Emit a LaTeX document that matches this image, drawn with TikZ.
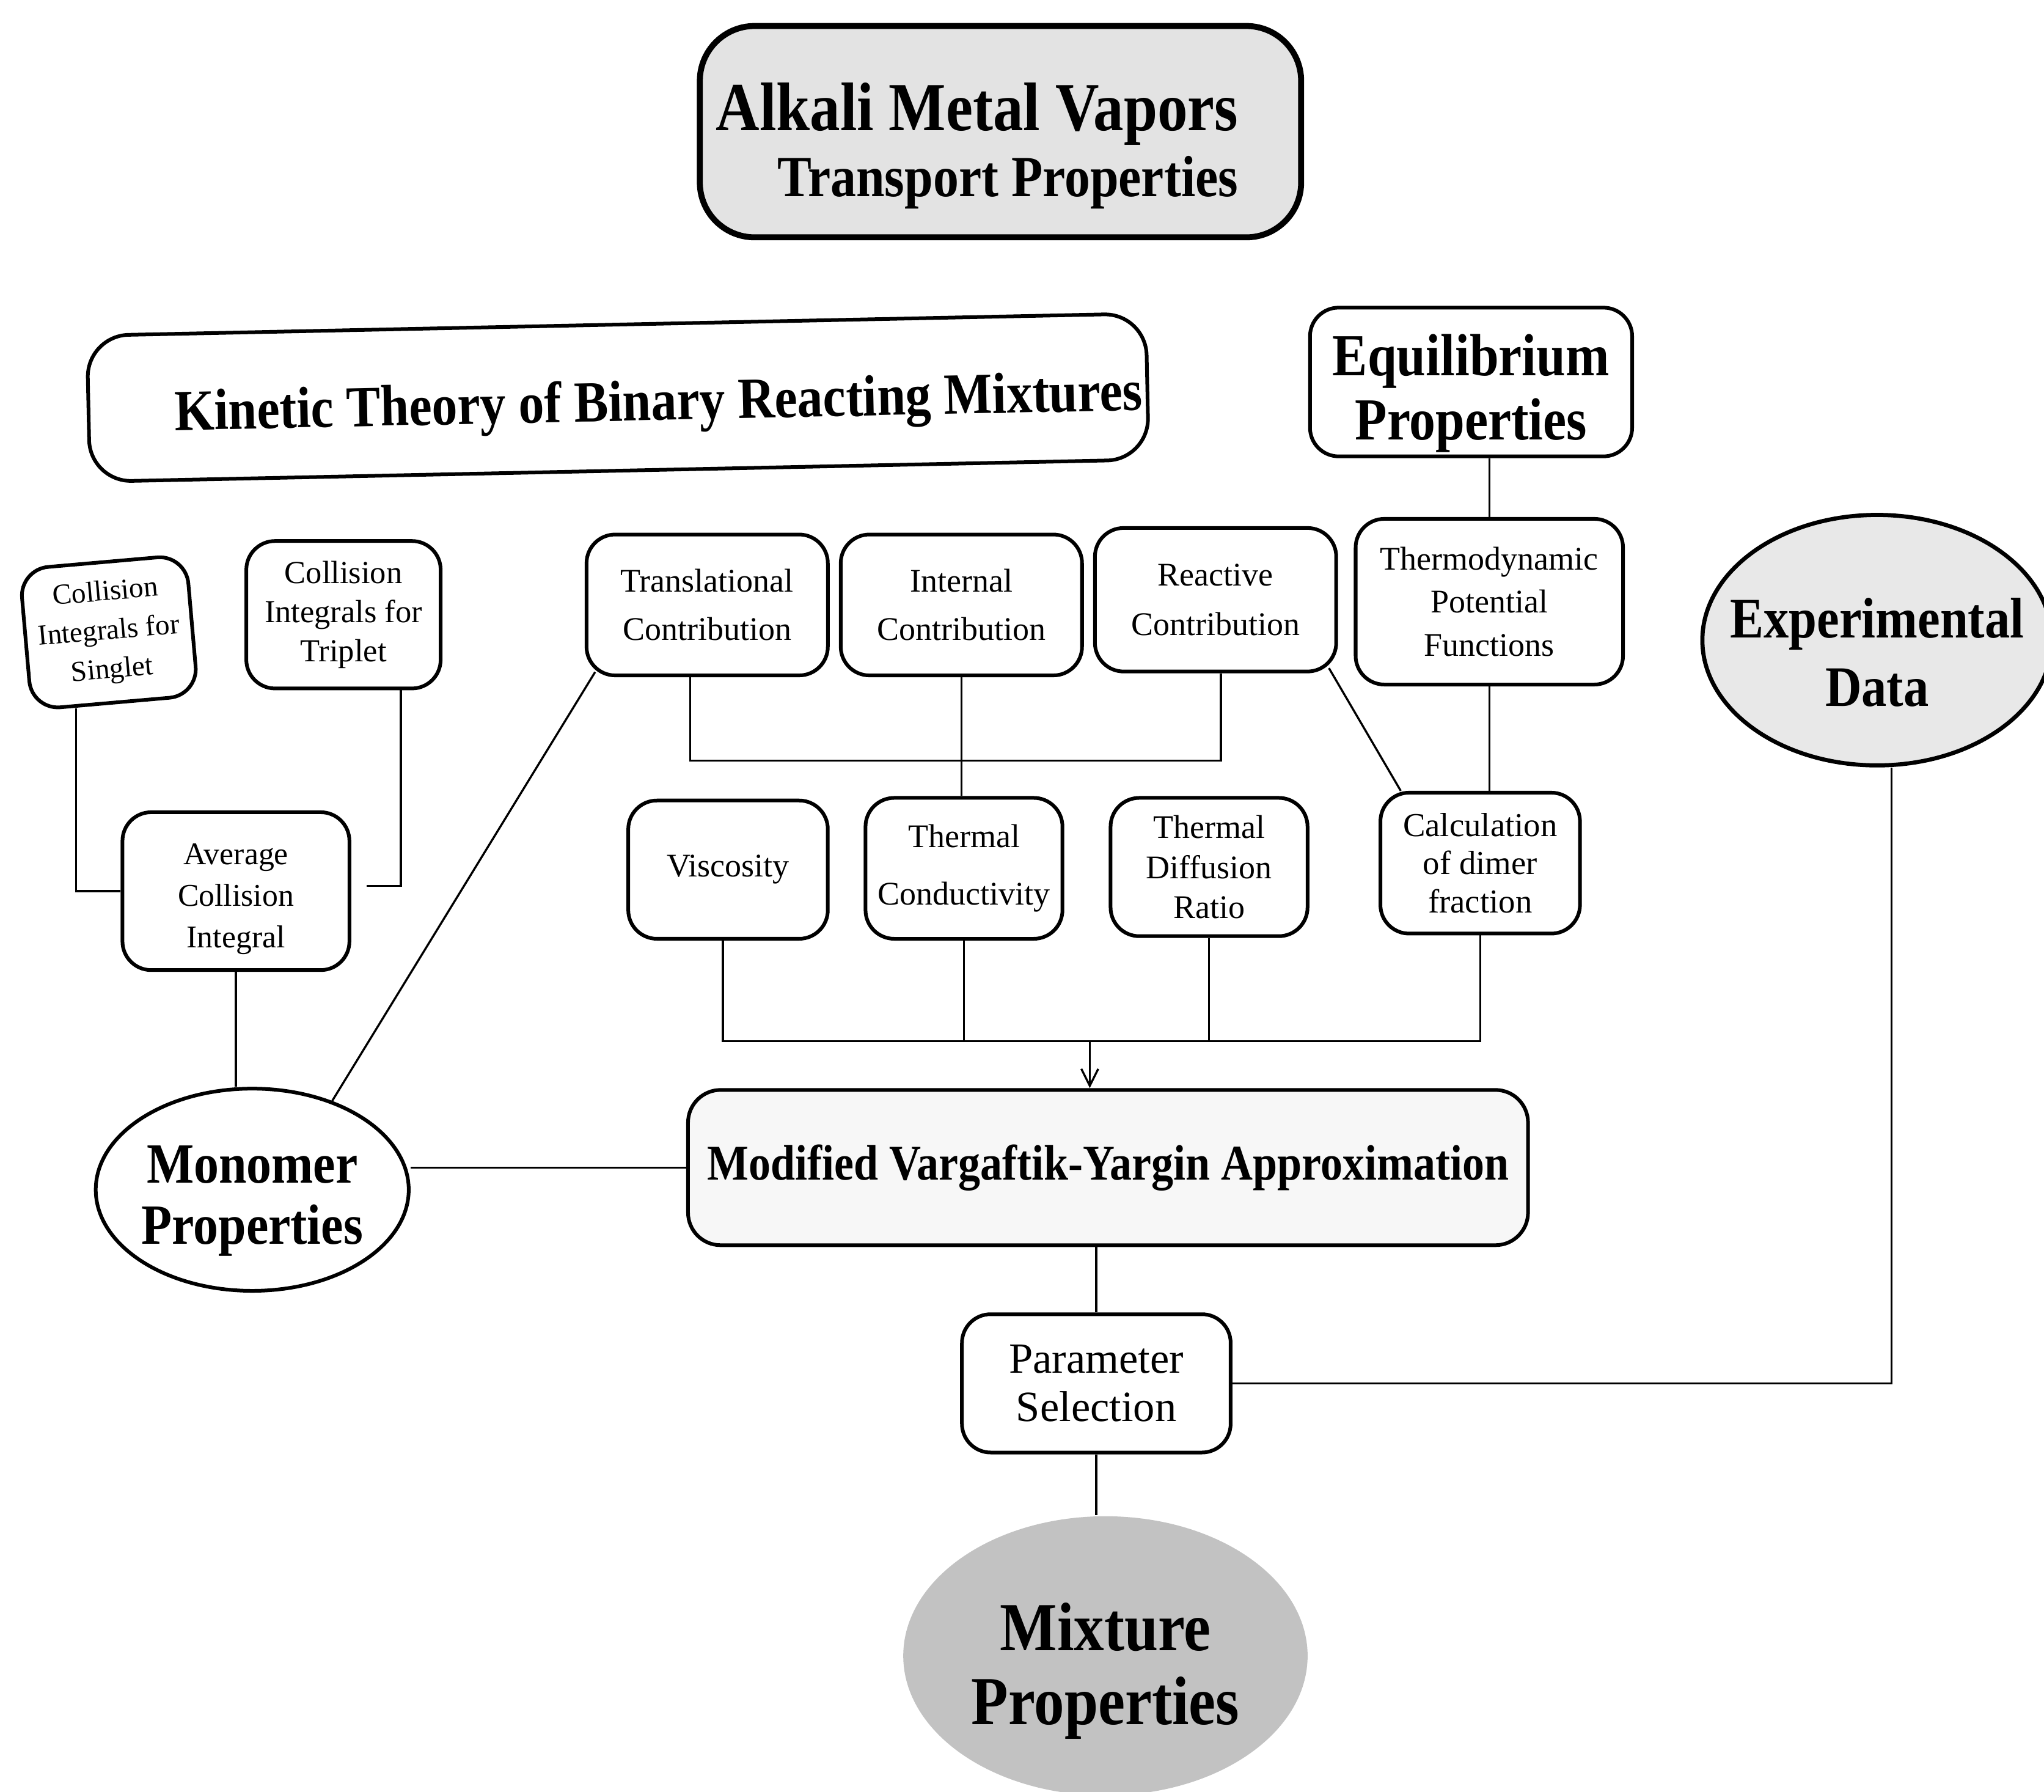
\documentclass[tikz,border=0pt]{standalone}
\usepackage{fontspec}
\setmainfont{Liberation Serif}
\newfontfamily\hdfont[FakeStretch=0.88]{Liberation Serif}
\usetikzlibrary{calc,arrows.meta,shapes.geometric}
\begin{document}
\begin{tikzpicture}[x=0.01cm,y=-0.01cm,
  box/.style={draw, line width=0.8pt, rounded corners=0.22cm, rectangle, align=center, inner sep=0pt},
  sm/.style={font=\fontsize{7.2}{#1}\selectfont},
  oval/.style={ellipse, align=center, inner sep=0pt},
  conn/.style={line width=0.45pt},
]
\useasboundingbox (0,0) rectangle (1568,1374);

% ---- nodes ----
\node[box, line width=1.3pt, rounded corners=0.42cm, fill=gray!22, minimum width=4.61cm, minimum height=1.62cm,
  font=\hdfont\bfseries\fontsize{15}{14.4}\selectfont, align=right] (title) at (767.5,101)
  {\rule{0pt}{16.6pt}Alkali Metal Vapors\hspace*{0.36cm}\\{\fontsize{12.7}{14.4}\selectfont Transport Properties\hspace*{0.36cm}}};

\node[box, rounded corners=0.32cm, rotate=1.2, minimum width=8.12cm, minimum height=1.12cm,
  font=\hdfont\bfseries\fontsize{12.7}{14}\selectfont] (kin) at (474,305)
  {\hspace*{0.62cm}\rule{0pt}{13pt}Kinetic Theory of Binary Reacting Mixtures};

\node[box, minimum width=2.47cm, minimum height=1.14cm,
  font=\hdfont\bfseries\fontsize{13}{14}\selectfont] (eq) at (1128.5,293) {\rule{0pt}{14pt}Equilibrium\\Properties};

\node[box, rotate=5, minimum width=1.28cm, minimum height=1.08cm, font=\fontsize{6.3}{8.5}\selectfont] (cs) at (83.5,485)
  {Collision\\Integrals for\\Singlet};
\node[box, minimum width=1.49cm, minimum height=1.13cm, font=\fontsize{7.0}{8.5}\selectfont] (ct) at (263.5,471.5)
  {Collision\\Integrals for\\Triplet};
\node[box, minimum width=1.74cm, minimum height=1.21cm, font=\fontsize{6.9}{9}\selectfont] (av) at (181,683.5)
  {\rule{0pt}{8pt}Average\\Collision\\Integral};

\node[box, sm=10.5, minimum width=1.85cm, minimum height=1.08cm] (tr) at (542.5,464) {Translational\\Contribution};
\node[box, sm=10.5, minimum width=1.85cm, minimum height=1.08cm] (in) at (737.5,464) {Internal\\Contribution};
\node[box, sm=10.8, minimum width=1.85cm, minimum height=1.10cm] (re) at (932.5,460) {Reactive\\Contribution};
\node[box, sm=9.4, minimum width=2.05cm, minimum height=1.27cm] (td) at (1142.5,461.5) {Thermodynamic\\Potential\\Functions};

\node[oval, draw, line width=0.9pt, fill=gray!18, inner xsep=-0.3cm, minimum width=2.68cm, minimum height=1.92cm,
  font=\hdfont\bfseries\fontsize{12.5}{15}\selectfont] (exp) at (1440,491) {\rule{0pt}{14pt}Experimental\\Data};

\node[box, sm=10, minimum width=1.53cm, minimum height=1.06cm] (vis) at (558.5,667) {Viscosity};
\node[box, sm=12.5, minimum width=1.51cm, minimum height=1.08cm] (tc) at (739.5,666) {Thermal\\Conductivity};
\node[box, sm=8.7, minimum width=1.51cm, minimum height=1.06cm] (tdr) at (927.5,665) {Thermal\\Diffusion\\Ratio};
\node[box, font=\fontsize{7.3}{8.3}\selectfont, minimum width=1.53cm, minimum height=1.08cm] (calc) at (1135.5,662) {Calculation\\of dimer\\fraction};

\node[oval, draw, line width=0.8pt, fill=white, minimum width=2.37cm, minimum height=1.55cm,
  font=\hdfont\bfseries\fontsize{12.4}{13.4}\selectfont] (mono) at (193.5,912.5) {\rule{0pt}{13pt}Monomer\\Properties};

\node[box, fill=gray!6, rounded corners=0.25cm, minimum width=6.44cm, minimum height=1.19cm,
  font=\hdfont\bfseries\fontsize{10.9}{12}\selectfont] (mvy) at (850,895.5) {Modified Vargaftik-Yargin Approximation};

\node[box, font=\fontsize{9.4}{10.5}\selectfont, minimum width=2.06cm, minimum height=1.06cm] (ps) at (841,1061) {Parameter\\Selection};

\node[oval, fill=gray!48, minimum width=3.10cm, minimum height=2.14cm,
  font=\hdfont\bfseries\fontsize{15}{16.2}\selectfont] (mix) at (848,1270) {\rule{0pt}{17pt}Mixture\\Properties};

% ---- connectors ----
\draw[conn] (td.north) -- (td.north |- eq.south);
\draw[conn] (td.south) -- (td.south |- calc.north);
\draw[conn] ($(re.south east)+(-7,-4)$) -- ($(calc.north west)+(17,0)$);

\draw[conn] ($(tr.south)+(-13,0)$) -- ++(0,64) coordinate (br) -| ($(re.south)+(4,0)$);
\draw[conn] (in.south) -- (in.south |- tc.north);

\draw[conn] ($(cs.south)+(-30,3)$) |- (av.west);
\draw[conn] ($(ct.south)+(44,0)$) |- ($(av.east)+(12,-4)$);
\draw[conn] (av.south) -- (av.south |- mono.north);

\draw[conn] (mono.48) -- ($(tr.south west)+(8,-4)$);
\draw[conn] (mvy.west) -- (mvy.west -| mono.east);

\draw[conn] ($(vis.south)+(-4,0)$) -- ++(0,77) coordinate (bl) -- (bl -| calc.south) -- (calc.south);
\draw[conn] (tc.south) -- (tc.south |- bl);
\draw[conn] (tdr.south) -- (tdr.south |- bl);
\draw[conn, -{Straight Barb[length=0.13cm,width=0.13cm]}] ($(bl -| mvy.north)+(-14,0)$) -- ($(mvy.north)+(-14,0)$);

\draw[conn, line width=0.6pt] (ps.north) -- (ps.north |- mvy.south);
\draw[conn, line width=0.6pt] (ps.south) -- (ps.south |- mix.north);
\draw[conn] (ps.east) -| ($(exp.south)+(11,0)$);
\end{tikzpicture}
\end{document}
